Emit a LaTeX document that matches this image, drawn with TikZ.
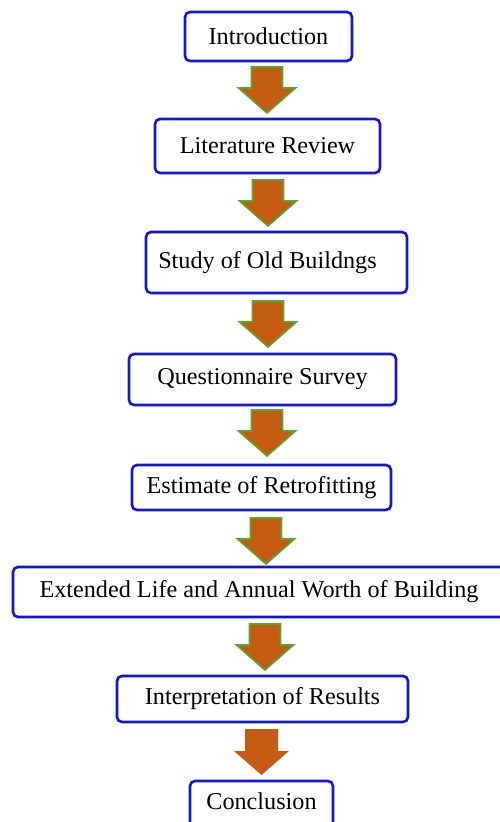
\documentclass[tikz,border=0pt]{standalone}
\usepackage{fontspec}
\setmainfont{Liberation Serif}
\definecolor{boxblue}{RGB}{20,20,215}
\definecolor{arrowfill}{RGB}{197,90,17}
\definecolor{arrowline}{RGB}{84,168,50}
\tikzset{
  box/.style={draw=boxblue, line width=2.6pt, rounded corners=5pt, fill=white,
    inner sep=0pt, font=\fontsize{24.2}{29}\selectfont},
  blockarrow/.pic={\path[pic actions] (-15.5,0) -- (-15.5,21) -- (-28.5,21) -- (0,46) -- (28.5,21) -- (15.5,21) -- (15.5,0) -- cycle;},
  lastarrow/.pic={\path[pic actions] (-16.5,0) -- (-16.5,22) -- (-27.5,22) -- (0,46) -- (27.5,22) -- (16.5,22) -- (16.5,0) -- cycle;},
  greenarrow/.style={fill=arrowfill, draw=arrowline, line width=1.6pt, line join=miter},
  plainarrow/.style={fill=arrowfill}
}
\begin{document}
\begin{tikzpicture}[x=1pt,y=-1pt]
\useasboundingbox (0,0) rectangle (500,822);
\node[box, minimum width=167pt, minimum height=49pt] (b1) at (268.5,36.5) {Introduction};
\node[box, minimum width=225pt, minimum height=54pt] (b2) at (267.5,146) {Literature Review};
\node[box, minimum width=261pt, minimum height=61pt] (b3) at (276.5,262.5) {Study of Old Buildngs\hspace*{18pt}};
\node[box, minimum width=267pt, minimum height=51pt] (b4) at (262.5,379.5) {Questionnaire Survey};
\node[box, minimum width=259pt, minimum height=45pt] (b5) at (261.5,487.5) {Estimate of Retrofitting};
\node[box, minimum width=492pt, minimum height=50pt] (b6) at (259,592) {Extended Life and Annual Worth of Building};
\node[box, minimum width=291pt, minimum height=46pt] (b7) at (262.5,699) {Interpretation of Results};
\node[box, minimum width=143pt, minimum height=60pt, text depth=0pt] (b8) at (261.5,811) {\raisebox{19pt}{Conclusion}};
\coordinate (a1) at (267,67);
\coordinate (a2) at (268,180);
\coordinate (a3) at (268,301);
\coordinate (a4) at (267,410);
\coordinate (a5) at (266,518);
\coordinate (a6) at (265,624);
\coordinate (a7) at (261.5,729);
\foreach \a in {a1,a2,a3,a4,a5,a6}
  \pic[greenarrow] at (\a) {blockarrow};
\pic[plainarrow] at (a7) {lastarrow};
\end{tikzpicture}
\end{document}
